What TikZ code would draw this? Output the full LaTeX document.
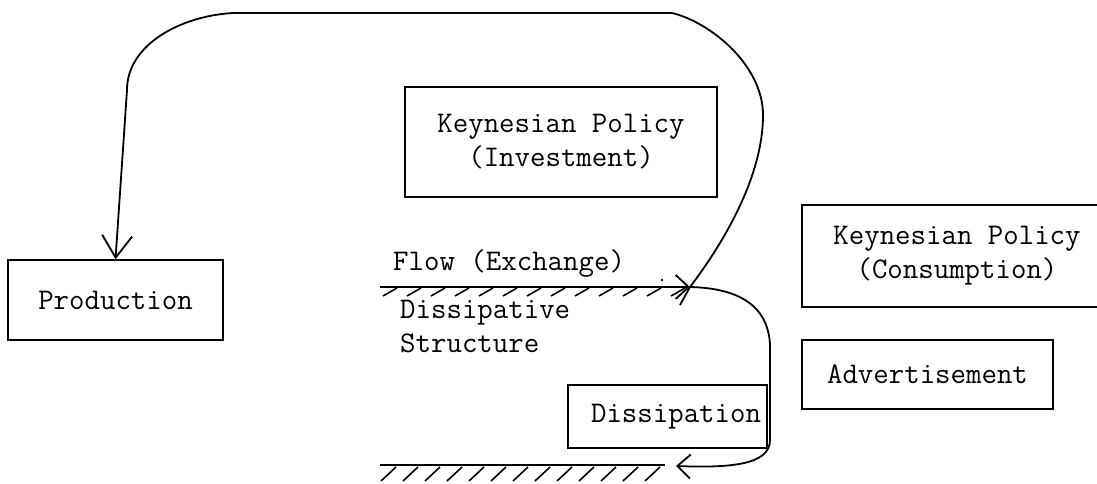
\documentclass[tikz,border=0pt]{standalone}
\usepackage{fontspec}
\usetikzlibrary{arrows.meta}
\begin{document}
\begin{tikzpicture}[x=1pt,y=-1pt,
  every node/.style={font=\ttfamily\fontsize{30}{34}\selectfont},
  boxnode/.style={draw,line width=1.6pt,inner sep=0pt,align=center},
  flowline/.style={line width=1.8pt},
  bigbarb/.style={-{Straight Barb[length=22pt,width=30pt,line width=1.8pt]}},
  smallbarb/.style={-{Straight Barb[length=13pt,width=24pt,line width=1.8pt]}},
  hatch/.style={line width=1.6pt}]
\useasboundingbox (0,0) rectangle (1097,483);
\clip (0,0) rectangle (1097,483);
% boxes
\node[boxnode,minimum width=215pt,minimum height=80pt] (prod) at (115.5,300) {Production};
\node[boxnode,minimum width=312pt,minimum height=110pt] (inv) at (561,142) {Keynesian Policy\\(Investment)};
\node[boxnode,minimum width=310pt,minimum height=102pt] (cons) at (957,256) {Keynesian Policy\\(Consumption)};
\node[boxnode,minimum width=251pt,minimum height=69pt] (adv) at (927.5,374.5) {Advertisement};
\node[boxnode,minimum width=199pt,minimum height=63pt,text width=187pt,align=right] (diss) at (667.5,416.5) {Dissipation};
% labels
\node[anchor=base west,inner sep=0pt] (flow) at (393,270) {Flow (Exchange)};
\node[anchor=base west,inner sep=0pt] (dsA) at (400,318) {Dissipative};
\node[anchor=base west,inner sep=0pt] (dsB) at (400,352) {Structure};
\fill (662,280) circle (1.4pt);
% coordinates
\coordinate (topL) at (380,287);
\coordinate (cross) at (690,287);
\coordinate (botL) at (380,465);
\coordinate (botR) at (665,465);
\coordinate (tail) at (680,305);
\coordinate (bulge) at (763,115);
\coordinate (topR) at (672,13);
\coordinate (topLft) at (233,13);
\coordinate (leftBend) at (127,90);
\coordinate (loopR) at (770,345);
\coordinate (loopB) at (770,440);
\coordinate (botTip) at (676,466);
% flow line with arrow
\draw[flowline,smallbarb] (topL) -- (cross);
\foreach \x in {383,407,...,671} \draw[hatch] (\x,296) -- (\x+14,288);
% bottom boundary
\draw[flowline] (botL) -- (botR);
\foreach \x in {381,403,...,645} \draw[hatch] (\x,481) -- (\x+15,467);
% big loop to production
\draw[flowline,bigbarb] (tail) -- (cross)
  .. controls (712,258) and (763,185) .. (bulge)
  .. controls (763,65) and (710,22) .. (topR)
  -- (topLft)
  .. controls (180,16) and (127,45) .. (leftBend)
  -- (prod.north);
% dissipation loop
\draw[flowline,smallbarb] (cross)
  .. controls (730,288) and (768,300) .. (loopR)
  -- (loopB)
  .. controls (770,465) and (730,468) .. (botTip);
\end{tikzpicture}
\end{document}
